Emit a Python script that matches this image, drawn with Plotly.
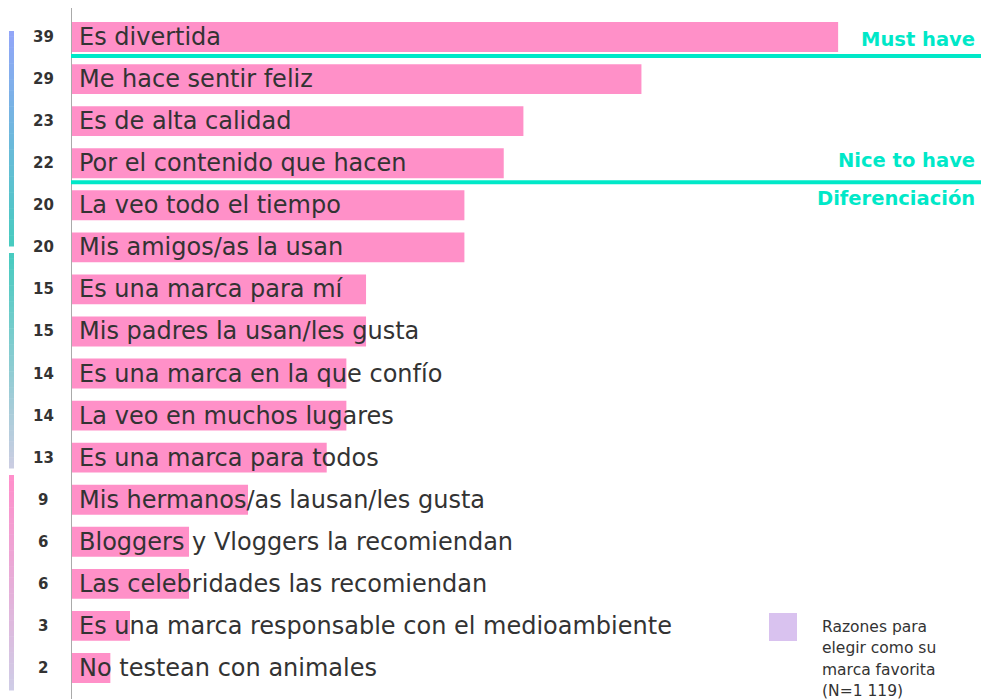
import plotly.graph_objects as go

categories = [
    "Es divertida", "Me hace sentir feliz", "Es de alta calidad",
    "Por el contenido que hacen", "La veo todo el tiempo", "Mis amigos/as la usan",
    "Es una marca para mí", "Mis padres la usan/les gusta", "Es una marca en la que confío",
    "La veo en muchos lugares", "Es una marca para todos", "Mis hermanos/as lausan/les gusta",
    "Bloggers y Vloggers la recomiendan", "Las celebridades las recomiendan",
    "Es una marca responsable con el medioambiente", "No testean con animales",
]
values = [39, 29, 23, 22, 20, 20, 15, 15, 14, 14, 13, 9, 6, 6, 3, 2]
group_labels = ["Must have", "Nice to have", "Diferenciación"]
legend_lines = ["Razones para", "elegir como su", "marca favorita", "(N=1 119)"]

PINK = "#FF90C8"
TEAL = "#00E8C8"
TXT = "#333333"
FONT = "DejaVu Sans"

fig = go.Figure(go.Bar(
    x=values, y=categories, orientation="h",
    marker=dict(color=PINK, line=dict(width=0)),
    width=0.71, hoverinfo="x+y", showlegend=False,
))

def px_x(p):
    return (p - 71) / 900
def px_y(p):
    return 1 - (p - 16) / 673

ann = []
for c, v in zip(categories, values):
    ann.append(dict(x=0, y=c, xref="x", yref="y", text=c, showarrow=False,
                    xanchor="left", xshift=6, font=dict(family=FONT, size=24, color=TXT)))
    ann.append(dict(x=px_x(43), y=c, xref="paper", yref="y", text=f"<b>{v}</b>", showarrow=False,
                    xanchor="center", font=dict(family=FONT, size=15, color=TXT)))

# group labels
for lab, yv in zip(group_labels, (0.06, 2.93, 3.83)):
    ann.append(dict(x=1.0, y=yv, xref="paper", yref="y", text=f"<b>{lab}</b>",
                    showarrow=False, xanchor="right", xshift=6,
                    font=dict(family=FONT, size=19.5, color=TEAL)))

# legend text
for i, line in enumerate(legend_lines):
    ann.append(dict(x=px_x(820), y=px_y(627 + 21.3 * i), xref="paper", yref="paper",
                    text=line, showarrow=False, xanchor="left", yanchor="middle",
                    font=dict(family=FONT, size=15.5, color=TXT)))

shapes = []
# axis line
shapes.append(dict(type="line", xref="x", yref="paper", x0=0, x1=0, y0=px_y(702), y1=px_y(8),
                   line=dict(color="#aaaaaa", width=2)))
# separator lines
for yv in (0.45, 3.45):
    shapes.append(dict(type="line", xref="paper", yref="y", x0=0, x1=1.02, y0=yv, y1=yv,
                       line=dict(color=TEAL, width=4)))
# legend swatch
shapes.append(dict(type="rect", xref="paper", yref="paper",
                   x0=px_x(769), x1=px_x(797), y0=px_y(641), y1=px_y(613),
                   fillcolor="#D9C2EF", line=dict(width=0)))

# gradient side bars
def hex2rgb(h):
    h = h.lstrip("#")
    return tuple(int(h[i:i + 2], 16) for i in (0, 2, 4))

segments = [(31, 246, "#92A6F8", "#48CBC0"), (253, 468, "#48CBC0", "#CACDE2"),
            (475, 690, "#FF8FCB", "#CFCCE6")]
N = 40
for top, bot, c1, c2 in segments:
    r1, r2 = hex2rgb(c1), hex2rgb(c2)
    step = (bot - top) / N
    for i in range(N):
        t = i / (N - 1)
        col = "rgb(%d,%d,%d)" % tuple(round(a + (b - a) * t) for a, b in zip(r1, r2))
        shapes.append(dict(type="rect", xref="paper", yref="paper",
                           x0=px_x(9), x1=px_x(14), y0=px_y(top + (i + 1) * step + 0.5),
                           y1=px_y(top + i * step), fillcolor=col, line=dict(width=0)))

fig.update_layout(
    width=981, height=699,
    margin=dict(l=71, r=10, t=16, b=10),
    paper_bgcolor="white", plot_bgcolor="white",
    xaxis=dict(range=[0, 900 / 19.67], visible=False, fixedrange=True),
    yaxis=dict(autorange=False, range=[15.5, -0.5], categoryorder="array",
               categoryarray=categories, showticklabels=False, showgrid=False,
               zeroline=False, showline=False, fixedrange=True),
    annotations=ann, shapes=shapes,
    bargap=0.29,
)

fig.write_html("out.html", config={"displayModeBar": False},
               post_script="document.body.style.margin='0';document.body.style.overflow='hidden';")
